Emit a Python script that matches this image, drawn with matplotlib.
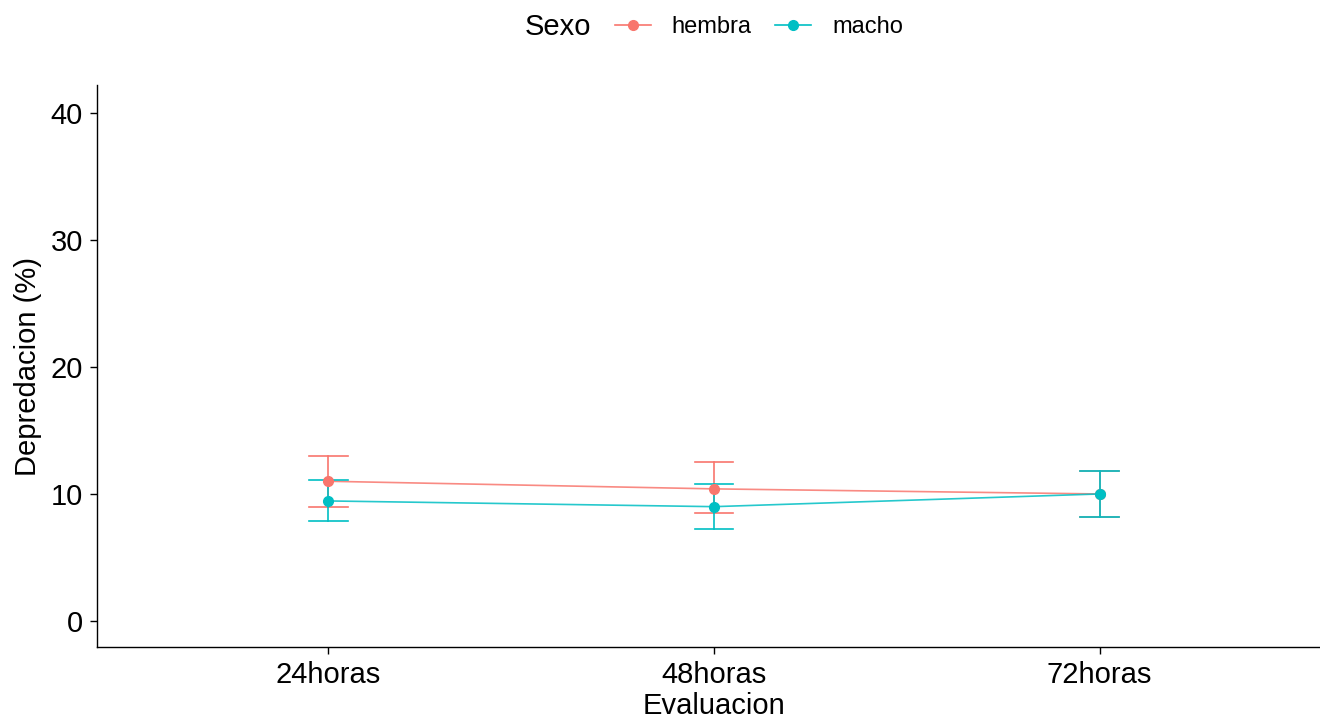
import matplotlib
matplotlib.use("Agg")
import matplotlib.pyplot as plt
from matplotlib.lines import Line2D
from matplotlib.offsetbox import HPacker

plt.rcParams['font.family'] = ['Liberation Sans', 'DejaVu Sans']

categories = ["24horas", "48horas", "72horas"]
groups = ["hembra", "macho"]
colors = {"hembra": "#F8766D", "macho": "#00BFC4"}
means = {"hembra": [11.0, 10.4, 10.0], "macho": [9.45, 9.0, 10.0]}
upper = {"hembra": [13.0, 12.5, 11.8], "macho": [11.1, 10.8, 11.8]}
lower = {"hembra": [9.0, 8.5, 8.2], "macho": [7.9, 7.25, 8.2]}
yticks = [0, 10, 20, 30, 40]

W, H = 1320, 720
fig = plt.figure(figsize=(W / 100, H / 100), dpi=100)
left, right, top, bottom = 97, 1331, 85, 647
ax = fig.add_axes([left / W, 1 - bottom / H, (right - left) / W, (bottom - top) / H])

x = [1, 2, 3]
lw = 1.2
for g in groups:
    c = colors[g]
    ax.plot(x, means[g], color=c, lw=lw, zorder=2, alpha=0.85)
    for xi, m, u, l in zip(x, means[g], upper[g], lower[g]):
        ax.plot([xi, xi], [l, u], color=c, lw=lw, zorder=3)
        ax.plot([xi - 0.05, xi + 0.05], [u, u], color=c, lw=lw, zorder=3)
        ax.plot([xi - 0.05, xi + 0.05], [l, l], color=c, lw=lw, zorder=3)
    ax.plot(x, means[g], 'o', color=c, ms=7, zorder=4, lw=0)

ax.set_xlim(0.4, 3.6)
ax.set_ylim(-2.05, 42.2)
ax.set_xticks(x)
ax.set_xticklabels(categories)
ax.set_yticks(yticks)
for s in ["top", "right"]:
    ax.spines[s].set_visible(False)
for s in ["left", "bottom"]:
    ax.spines[s].set_linewidth(1.0)
    ax.spines[s].set_color("black")
ax.tick_params(axis="both", labelsize=21, colors="black", length=5, width=1.0, pad=5)
ax.set_xlabel("Evaluacion", fontsize=21, labelpad=2)
ax.set_ylabel("Depredacion (%)", fontsize=21, labelpad=6)

handles = [Line2D([0], [0], color=colors[g], marker='o', ms=7, lw=lw) for g in groups]
leg = fig.legend(handles, groups, loc="center", bbox_to_anchor=(714 / W, 1 - 27 / H),
                 ncol=2, frameon=False, fontsize=17, title="Sexo", title_fontsize=21,
                 handlelength=1.5, columnspacing=1.0, handletextpad=0.9)
title_box = leg._legend_title_box
entries = leg._legend_handle_box
leg._legend_box._children = [HPacker(pad=0, sep=17, children=[title_box, entries], align="center")]

fig.savefig("out.png", dpi=100)
